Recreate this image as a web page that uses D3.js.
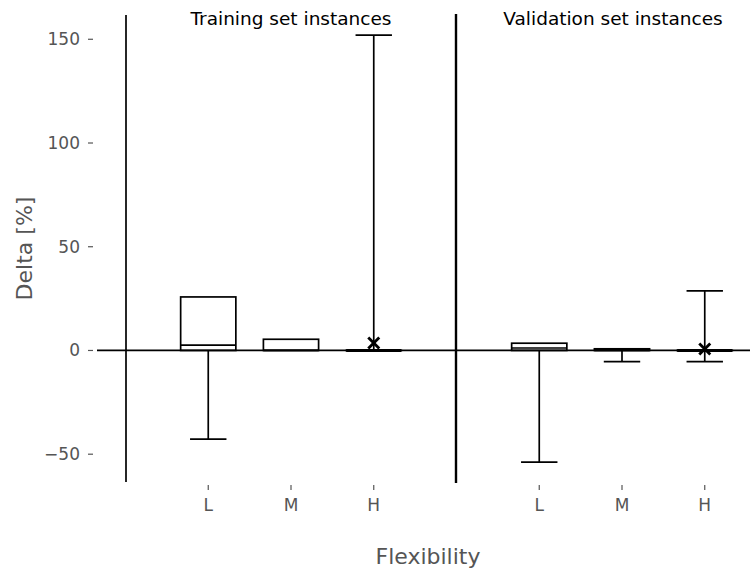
<!DOCTYPE html>
<html>
<head>
<meta charset="utf-8">
<script src="https://cdn.jsdelivr.net/npm/d3@7"></script>
<style>
  body { margin: 0; background: #fff; }
  text { font-family: "DejaVu Sans", sans-serif; }
</style>
</head>
<body>
<div id="chart"></div>
<script>
// data
const panels = ["Training set instances", "Validation set instances"];
const categories = ["L", "M", "H"];
const yTicks = [-50, 0, 50, 100, 150];

// per panel, per category (L, M, H)
const whiskerLow  = [[-42.7, 0, 0],     [-53.8, -5.4, -5.4]];
const q1          = [[0, 0, 0],         [0, 0, 0]];
const medians     = [[2.6, 0, 0],       [1.2, 0.3, 0]];
const q3          = [[25.8, 5.4, 0],    [3.5, 0.8, 0]];
const whiskerHigh = [[25.8, 5.4, 152],  [3.5, 0.8, 28.7]];
// extra "x" markers: [panel, category, value]
const markers = [[0, "H", 3.6], [1, "H", 0.7]];

const width = 750, height = 571;

const svg = d3.select("#chart")
  .append("svg")
  .attr("width", width)
  .attr("height", height);

// y scale shared by both panels
const y = d3.scaleLinear()
  .domain([-63.4, 161.7])
  .range([482, 15]);

// each panel gets its own x scale, L/M/H at 1/2/3
const panelLeft = [125.5, 456.5];
const panelWidth = 331;
const catIndex = {L: 1, M: 2, H: 3};
const xScales = panelLeft.map(p => d3.scaleLinear().domain([0, 4]).range([p, p + panelWidth]));

const grey = "#555";
const lw = 1.7;

// y tick labels and tick marks
const yAxis = svg.append("g");
yAxis.selectAll("text")
  .data(yTicks)
  .enter()
  .append("text")
  .attr("x", 80)
  .attr("y", d => y(d))
  .attr("dy", "0.35em")
  .attr("text-anchor", "end")
  .style("font-size", "17px")
  .attr("fill", grey)
  .text(d => d3.format("d")(d).replace("-", "\u2212"));
yAxis.selectAll("line")
  .data(yTicks)
  .enter()
  .append("line")
  .attr("x1", 88).attr("x2", 93)
  .attr("y1", d => y(d)).attr("y2", d => y(d))
  .attr("stroke", grey)
  .attr("stroke-width", 1.2);

// y label
svg.append("text")
  .attr("transform", `translate(32, ${(y.range()[0] + y.range()[1]) / 2}) rotate(-90)`)
  .attr("text-anchor", "middle")
  .style("font-size", "22px")
  .attr("fill", grey)
  .text("Delta [%]");

// x label
svg.append("text")
  .attr("x", 428)
  .attr("y", 564)
  .attr("text-anchor", "middle")
  .style("font-size", "22px")
  .attr("fill", grey)
  .text("Flexibility");

// zero line across the whole plot
svg.append("line")
  .attr("x1", 97).attr("x2", width)
  .attr("y1", y(0)).attr("y2", y(0))
  .attr("stroke", "#000")
  .attr("stroke-width", lw);

// panel borders
svg.append("line")
  .attr("x1", 126).attr("x2", 126)
  .attr("y1", 15).attr("y2", 482)
  .attr("stroke", "#000")
  .attr("stroke-width", lw);
svg.append("line")
  .attr("x1", 456).attr("x2", 456)
  .attr("y1", 14).attr("y2", 483)
  .attr("stroke", "#000")
  .attr("stroke-width", 2.4);

const boxW = 0.667, capW = 0.44;

panels.forEach((title, p) => {
  const x = xScales[p];
  const g = svg.append("g");

  // panel title
  g.append("text")
    .attr("x", p === 0 ? 291 : 613)
    .attr("y", 25)
    .attr("text-anchor", "middle")
    .style("font-size", "18.5px")
    .attr("fill", "#000")
    .text(title);

  // x ticks + labels
  categories.forEach(c => {
    g.append("line")
      .attr("x1", x(catIndex[c])).attr("x2", x(catIndex[c]))
      .attr("y1", 485).attr("y2", 490)
      .attr("stroke", grey)
      .attr("stroke-width", 1.2);
    g.append("text")
      .attr("x", x(catIndex[c]))
      .attr("y", 511)
      .attr("text-anchor", "middle")
      .style("font-size", "17px")
      .attr("fill", grey)
      .text(c);
  });

  // boxes
  categories.forEach((c, i) => {
    const cx = x(catIndex[c]);
    const left = x(catIndex[c] - boxW / 2), right = x(catIndex[c] + boxW / 2);
    const cl = x(catIndex[c] - capW / 2), cr = x(catIndex[c] + capW / 2);

    // whiskers (only where they go past the box)
    [[q1[p][i], whiskerLow[p][i]], [q3[p][i], whiskerHigh[p][i]]].forEach(([from, to]) => {
      if (from === to) return;
      g.append("line")
        .attr("x1", cx).attr("x2", cx)
        .attr("y1", y(from)).attr("y2", y(to))
        .attr("stroke", "#000").attr("stroke-width", lw);
      g.append("line")
        .attr("x1", cl).attr("x2", cr)
        .attr("y1", y(to)).attr("y2", y(to))
        .attr("stroke", "#000").attr("stroke-width", lw);
    });

    g.append("rect")
      .attr("x", left)
      .attr("y", y(q3[p][i]))
      .attr("width", right - left)
      .attr("height", Math.max(0.01, y(q1[p][i]) - y(q3[p][i])))
      .attr("fill", "none")
      .attr("stroke", "#000")
      .attr("stroke-width", lw);

    g.append("line")
      .attr("x1", left).attr("x2", right)
      .attr("y1", y(medians[p][i])).attr("y2", y(medians[p][i]))
      .attr("stroke", "#000")
      .attr("stroke-width", q3[p][i] - q1[p][i] < 1.5 ? 3 : lw);
  });
});

// x markers
markers.forEach(([p, c, v]) => {
  const cx = xScales[p](catIndex[c]), cy = y(v), s = 5.5;
  const m = svg.append("g").attr("stroke", "#000").attr("stroke-width", 2.8);
  m.append("line").attr("x1", cx - s).attr("y1", cy - s).attr("x2", cx + s).attr("y2", cy + s);
  m.append("line").attr("x1", cx - s).attr("y1", cy + s).attr("x2", cx + s).attr("y2", cy - s);
});
</script>
</body>
</html>
